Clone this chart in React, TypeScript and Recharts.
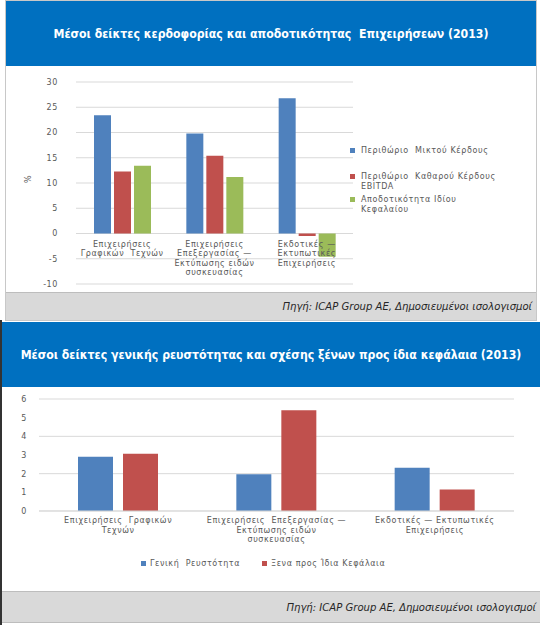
import React from "react";
import { BarChart, Bar, XAxis, YAxis, CartesianGrid, Label } from "recharts";

// --- chart 1: profitability (%)
const profitCats = ["graphic", "packaging", "publishing"];
const profitCatLabels = [
  ["Επιχειρήσεις", "Γραφικών  Τεχνών"],
  ["Επιχειρήσεις", "Επεξεργασίας —", "Εκτύπωσης ειδών", "συσκευασίας"],
  ["Εκδοτικές —", "Εκτυπωτικές", "Επιχειρήσεις"],
];
const grossMargin = [23.4, 19.8, 26.8];
const ebitdaMargin = [12.3, 15.4, -0.5];
const returnOnEquity = [13.4, 11.2, -4.6];
const profitTicks = [-10, -5, 0, 5, 10, 15, 20, 25, 30];
const profitSeries = ["Περιθώριο  Μικτού Κέρδους", "Περιθώριο  Καθαρού Κέρδους\nEBITDA", "Αποδοτικότητα Ιδίου\nΚεφαλαίου"];

// --- chart 2: liquidity / leverage
const liqCatLabels = [
  ["Επιχειρήσεις  Γραφικών", "Τεχνών"],
  ["Επιχειρήσεις  Επεξεργασίας —", "Εκτύπωσης ειδών", "συσκευασίας"],
  ["Εκδοτικές — Εκτυπωτικές", "Επιχειρήσεις"],
];
const generalLiquidity = [2.9, 1.97, 2.32];
const debtToEquity = [3.07, 5.4, 1.15];
const liqTicks = [0, 1, 2, 3, 4, 5, 6];
const liqSeries = ["Γενική  Ρευστότητα", "Ξενα προς Ίδια Κεφάλαια"];

const BLUE = "#4F81BD";
const RED = "#C0504D";
const GREEN = "#9BBB59";
const TXT = "#595959";
const GRID = "#D9D9D9";
const FONT = '"DejaVu Sans", sans-serif';
const HEAD_FONT = '"DejaVu Sans Condensed", "DejaVu Sans", sans-serif';

const profitData = profitCats.map((c, i) => ({
  cat: c,
  gross: grossMargin[i],
  ebitda: ebitdaMargin[i],
  roe: returnOnEquity[i],
}));
const liqData = profitCats.map((c, i) => ({
  cat: c,
  liq: generalLiquidity[i],
  debt: debtToEquity[i],
}));

// chart 1 layout
const P_TOP = 16;
const P_H = 202;
const P_ZERO = P_TOP + (P_H * 30) / 40;
// chart 2 layout
const L_TOP = 12;
const L_H = 112;

const tickText = { fontFamily: FONT, fontSize: 8, fill: TXT, letterSpacing: 0.6 };
const legendText: React.CSSProperties = { fontFamily: FONT, fontSize: 8, color: TXT, letterSpacing: 0.6, lineHeight: "9.6px", whiteSpace: "pre" };

const MultiTick = ({ x, payload, lines, baseY }: any) => {
  const ls: string[] = lines[payload.index] || [];
  return (
    <text x={x} y={baseY} textAnchor="middle" dominantBaseline="central" style={{ whiteSpace: "pre" }} {...tickText}>
      {ls.map((l, i) => (
        <tspan key={i} x={x} dy={i === 0 ? 0 : 9.6}>{l}</tspan>
      ))}
    </text>
  );
};

const Swatch = ({ color, left, top }: { color: string; left: number; top: number }) => (
  <div style={{ position: "absolute", left, top, width: 5, height: 5, background: color }} />
);

// legend of chart 1, placed at the right of the plot
const ProfitLegend = () => {
  const colors = [BLUE, RED, GREEN];
  const tops = [146, 172, 195];
  return (
    <>
      {profitSeries.map((s, i) => (
        <React.Fragment key={s}>
          <Swatch color={colors[i]} left={350} top={tops[i] + 2} />
          <div style={{ position: "absolute", left: 361, top: tops[i], ...legendText }}>{s}</div>
        </React.Fragment>
      ))}
    </>
  );
};

// legend of chart 2, below the category labels
const LiqLegend = () => {
  const colors = [BLUE, RED];
  const lefts = [141, 262];
  return (
    <>
      {liqSeries.map((s, i) => (
        <React.Fragment key={s}>
          <Swatch color={colors[i]} left={lefts[i]} top={561} />
          <div style={{ position: "absolute", left: lefts[i] + 9, top: 559, ...legendText }}>{s}</div>
        </React.Fragment>
      ))}
    </>
  );
};

const header = (top: number, left: number, width: number, text: string) => (
  <div style={{
    position: "absolute", top, left, width, height: 65, background: "#0070C0",
    display: "flex", alignItems: "center", justifyContent: "center",
    color: "#fff", fontFamily: HEAD_FONT, fontStretch: "condensed", fontWeight: 700, fontSize: 12.2, whiteSpace: "pre",
  }}>{text}</div>
);

const footer = (top: number, left: number, width: number, height: number) => (
  <div style={{
    position: "absolute", top, left, width, height, background: "#D9D9D9", boxSizing: "border-box",
    borderTop: "1px solid #BDBDBD", display: "flex", alignItems: "center", justifyContent: "flex-end",
    paddingRight: 4, fontFamily: HEAD_FONT, fontStretch: "condensed", fontStyle: "italic", fontSize: 11.2, color: "#262626",
  }}>Πηγή: ICAP Group AE, Δημοσιευμένοι ισολογισμοί</div>
);

export default function App() {
  return (
    <div style={{ position: "relative", width: 540, height: 625, background: "#fff", overflow: "hidden" }}>
      <style>{`body{margin:0}`}</style>

      {/* panel 1 */}
      <div style={{ position: "absolute", left: 5, top: 0, width: 532, height: 321, border: "1px solid #C8C8C8", boxSizing: "border-box" }} />
      {header(1, 6, 530, "Μέσοι δείκτες κερδοφορίας και αποδοτικότητας  Επιχειρήσεων (2013)")}
      <div style={{ position: "absolute", left: 6, top: 66 }}>
        <BarChart width={530} height={226} data={profitData} margin={{ top: P_TOP, right: 183, bottom: 0, left: 0 }} barSize={17} barGap={3}>
          <CartesianGrid vertical={false} stroke={GRID} />
          <XAxis dataKey="cat" height={8} axisLine={false} tickLine={false} interval={0}
            tick={<MultiTick lines={profitCatLabels} baseY={P_ZERO + 10} />} />
          <YAxis width={70} domain={[-10, 30]} ticks={profitTicks} axisLine={false} tickLine={false} tickMargin={12}
            tick={tickText}>
            <Label value="%" angle={-90} position="insideLeft" offset={22} style={{ ...tickText }} />
          </YAxis>
          <Bar dataKey="gross" name={profitSeries[0]} fill={BLUE} isAnimationActive={false} />
          <Bar dataKey="ebitda" name={profitSeries[1]} fill={RED} isAnimationActive={false} />
          <Bar dataKey="roe" name={profitSeries[2]} fill={GREEN} isAnimationActive={false} />
        </BarChart>
      </div>
      <ProfitLegend />
      {footer(292, 6, 530, 28)}

      {/* panel 2 */}
      <div style={{ position: "absolute", left: 0, top: 320, width: 2, height: 305, background: "#333" }} />
      {header(322, 2, 538, "Μέσοι δείκτες γενικής ρευστότητας και σχέσης ξένων προς ίδια κεφάλαια (2013)")}
      <div style={{ position: "absolute", left: 2, top: 387 }}>
        <BarChart width={538} height={204} data={liqData} margin={{ top: L_TOP, right: 26, bottom: 0, left: 0 }} barSize={35} barGap={10}>
          <CartesianGrid vertical={false} stroke={GRID} />
          <XAxis dataKey="cat" height={204 - L_TOP - L_H} axisLine={{ stroke: GRID }} tickLine={false} interval={0}
            tick={<MultiTick lines={liqCatLabels} baseY={L_TOP + L_H + 9} />} />
          <YAxis width={37} domain={[0, 6]} ticks={liqTicks} axisLine={false} tickLine={false} tickMargin={6} tick={tickText} />
          <Bar dataKey="liq" name={liqSeries[0]} fill={BLUE} isAnimationActive={false} />
          <Bar dataKey="debt" name={liqSeries[1]} fill={RED} isAnimationActive={false} />
        </BarChart>
      </div>
      <LiqLegend />
      <div style={{ position: "absolute", left: 2, top: 591, width: 538, height: 32, borderBottom: "1px solid #BDBDBD", boxSizing: "border-box" }} />
      {footer(591, 2, 538, 31)}
    </div>
  );
}
